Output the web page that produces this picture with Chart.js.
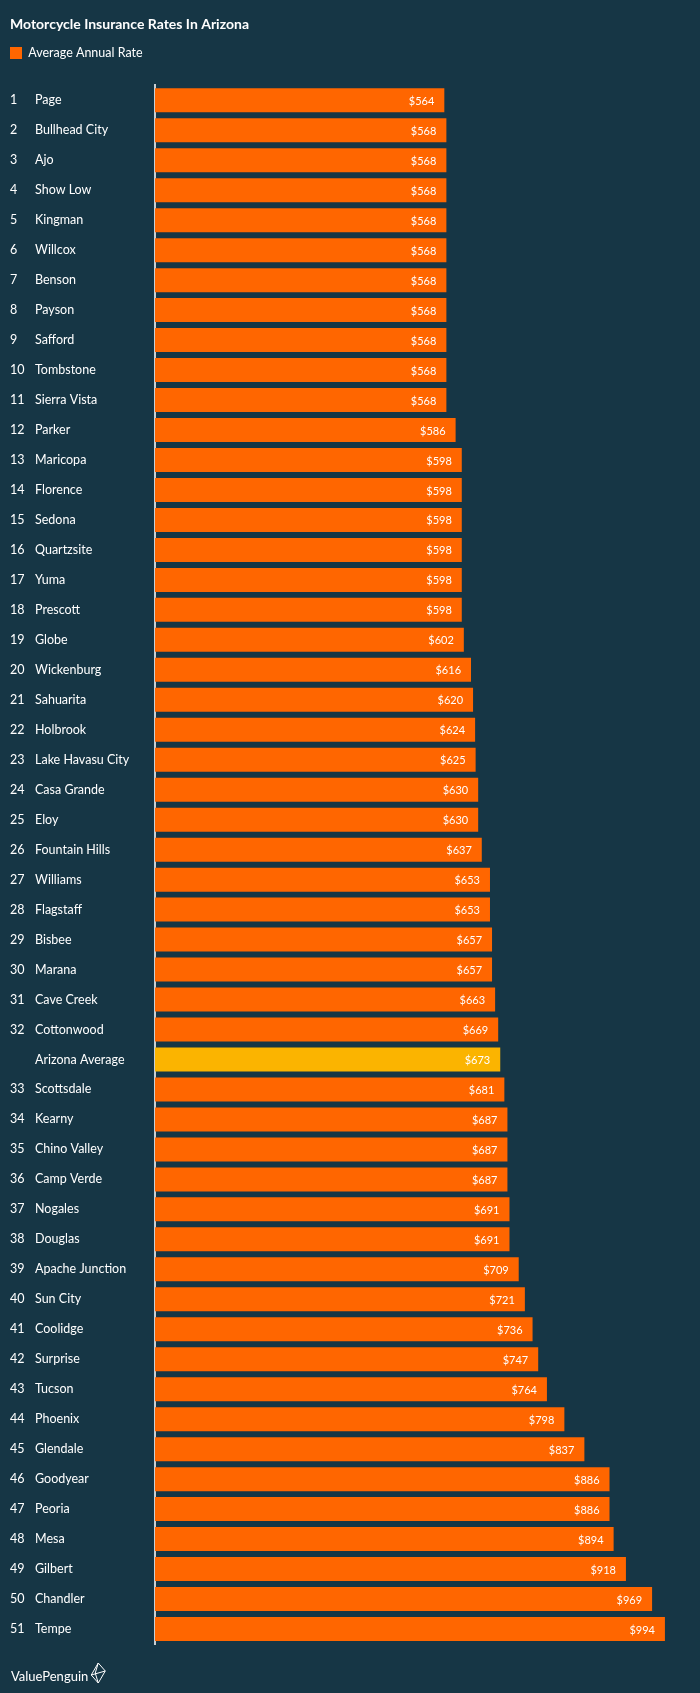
<!DOCTYPE html>
<html>
<head>
<meta charset="utf-8">
<script src="https://cdn.jsdelivr.net/npm/chart.js@4.4.0/dist/chart.umd.min.js"></script>
<style>
  html, body { margin: 0; padding: 0; background: #163645; }
  #wrap { width: 700px; height: 1693px; }
</style>
</head>
<body>
<div id="wrap"><canvas id="rates-chart" width="700" height="1693"></canvas></div>
<script>
var cities = ['Page', 'Bullhead City', 'Ajo', 'Show Low', 'Kingman', 'Willcox', 'Benson', 'Payson',
    'Safford', 'Tombstone', 'Sierra Vista', 'Parker', 'Maricopa', 'Florence', 'Sedona', 'Quartzsite',
    'Yuma', 'Prescott', 'Globe', 'Wickenburg', 'Sahuarita', 'Holbrook', 'Lake Havasu City',
    'Casa Grande', 'Eloy', 'Fountain Hills', 'Williams', 'Flagstaff', 'Bisbee', 'Marana',
    'Cave Creek', 'Cottonwood', 'Arizona Average', 'Scottsdale', 'Kearny', 'Chino Valley',
    'Camp Verde', 'Nogales', 'Douglas', 'Apache Junction', 'Sun City', 'Coolidge', 'Surprise',
    'Tucson', 'Phoenix', 'Glendale', 'Goodyear', 'Peoria', 'Mesa', 'Gilbert', 'Chandler', 'Tempe'];

var ranks = ['1', '2', '3', '4', '5', '6', '7', '8', '9', '10', '11', '12', '13', '14', '15', '16',
    '17', '18', '19', '20', '21', '22', '23', '24', '25', '26', '27', '28', '29', '30', '31', '32',
    '', '33', '34', '35', '36', '37', '38', '39', '40', '41', '42', '43', '44', '45', '46', '47',
    '48', '49', '50', '51'];

var annualRates = [564, 568, 568, 568, 568, 568, 568, 568, 568, 568, 568, 586, 598, 598, 598, 598,
    598, 598, 602, 616, 620, 624, 625, 630, 630, 637, 653, 653, 657, 657, 663, 669,
    673, 681, 687, 687, 687, 691, 691, 709, 721, 736, 747, 764, 798, 837, 886, 886,
    894, 918, 969, 994];

var averageLabel = 'Arizona Average';
var fontFamily = 'Lato, "Open Sans", sans-serif';

var barColors = cities.map(function (c) {
    return c === averageLabel ? '#fbb400' : '#ff6600';
});

// rank numbers and city names left of the axis
var rowLabelPlugin = {
    id: 'rowLabels',
    afterDraw: function (chart) {
        var ctx = chart.ctx;
        var yScale = chart.scales.y;
        ctx.save();
        ctx.fillStyle = '#ffffff';
        ctx.font = '12.5px ' + fontFamily;
        ctx.textAlign = 'left';
        ctx.textBaseline = 'middle';
        for (var i = 0; i < cities.length; ++i) {
            var y = yScale.getPixelForValue(i);
            ctx.fillText(ranks[i], 10, y);
            ctx.fillText(yScale.getLabelForValue(i), 35, y);
        }
        ctx.restore();
    }
};

// dollar values inside the bar ends
var valuePlugin = {
    id: 'values',
    afterDatasetsDraw: function (chart) {
        var ctx = chart.ctx;
        var bars = chart.getDatasetMeta(0).data;
        ctx.save();
        ctx.fillStyle = '#ffffff';
        ctx.font = '11px ' + fontFamily;
        ctx.textAlign = 'right';
        ctx.textBaseline = 'middle';
        for (var i = 0; i < bars.length; ++i) {
            ctx.fillText('$' + annualRates[i], bars[i].x - 10, bars[i].y + 1);
        }
        ctx.restore();
    }
};

// ValuePenguin mark at the bottom
var logoPlugin = {
    id: 'logo',
    afterDraw: function (chart) {
        var ctx = chart.ctx;
        ctx.save();
        ctx.fillStyle = '#ffffff';
        ctx.font = '13px ' + fontFamily;
        ctx.textAlign = 'left';
        ctx.textBaseline = 'middle';
        ctx.fillText('ValuePenguin', 11, 1677);
        var w = ctx.measureText('ValuePenguin').width;
        var cx = 11 + w + 10, cy = 1673;
        ctx.strokeStyle = '#ffffff';
        ctx.lineWidth = 1;
        ctx.beginPath();
        ctx.moveTo(cx, cy - 10);
        ctx.lineTo(cx + 7, cy - 2);
        ctx.lineTo(cx, cy + 10);
        ctx.lineTo(cx - 7, cy + 2);
        ctx.closePath();
        ctx.moveTo(cx - 7, cy + 2);
        ctx.lineTo(cx + 7, cy - 2);
        ctx.moveTo(cx, cy - 10);
        ctx.lineTo(cx - 3, cy);
        ctx.lineTo(cx, cy + 10);
        ctx.stroke();
        ctx.restore();
    }
};

var ctx = document.getElementById('rates-chart');
var ratesChart = new Chart(ctx, {
    type: 'bar',
    data: {
        labels: cities,
        datasets: [{
            label: 'Average Annual Rate',
            data: annualRates,
            backgroundColor: barColors,
            barPercentage: 0.8,
            categoryPercentage: 1.0
        }]
    },
    options: {
        indexAxis: 'y',
        responsive: false,
        animation: false,
        layout: { padding: { left: 10, right: 32, top: 0, bottom: 49 } },
        scales: {
            x: {
                min: 0,
                max: 1000,
                position: 'top',
                grid: { display: false },
                border: { display: false },
                ticks: { display: false },
                afterFit: function (scale) { scale.height = 16; }
            },
            y: {
                grid: { display: false },
                border: { color: '#c9cfd3', width: 2 },
                afterFit: function (scale) { scale.width = 145; },
                ticks: { display: false }
            }
        },
        plugins: {
            title: {
                display: true,
                text: 'Motorcycle Insurance Rates In Arizona',
                align: 'start',
                color: '#ffffff',
                font: { family: fontFamily, size: 14, weight: 'bold' },
                padding: { top: 16, bottom: 14 }
            },
            legend: {
                align: 'start',
                labels: {
                    color: '#ffffff',
                    boxWidth: 12,
                    boxHeight: 12,
                    padding: 0,
                    font: { family: fontFamily, size: 12.5 }
                }
            },
            tooltip: { enabled: false }
        }
    },
    plugins: [rowLabelPlugin, valuePlugin, logoPlugin]
});
</script>
</body>
</html>
